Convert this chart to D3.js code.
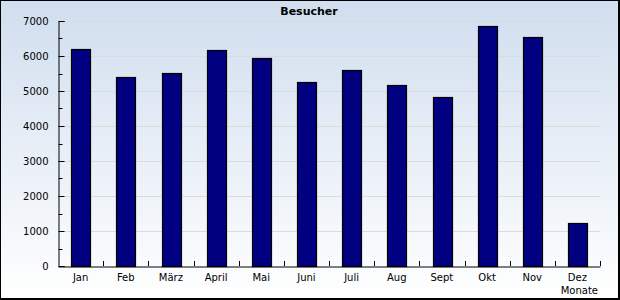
<!DOCTYPE html>
<html>
<head>
<meta charset="utf-8">
<script src="https://cdn.jsdelivr.net/npm/d3@7"></script>
<style>
  body { margin: 0; }
  svg { display: block; font-family: "DejaVu Sans", Verdana, sans-serif; }
</style>
</head>
<body>
<div id="chart"></div>
<script>
// data
const months = ["Jan", "Feb", "März", "April", "Mai", "Juni", "Juli", "Aug", "Sept", "Okt", "Nov", "Dez"];
const visitors = [6190, 5390, 5510, 6160, 5930, 5250, 5590, 5160, 4840, 6850, 6530, 1220];
const yTicks = [0, 1000, 2000, 3000, 4000, 5000, 6000, 7000];

let dimensions = {
  width: 620,
  height: 300,
  margin: { top: 21, right: 20, bottom: 34, left: 58 },
};
dimensions.boundedWidth = dimensions.width - dimensions.margin.left - dimensions.margin.right;
dimensions.boundedHeight = dimensions.height - dimensions.margin.top - dimensions.margin.bottom;

const svg = d3.select("#chart")
  .append("svg")
  .attr("width", dimensions.width)
  .attr("height", dimensions.height);

// background gradient
const grad = svg.append("defs").append("linearGradient")
  .attr("id", "bg").attr("x1", 0).attr("y1", 0).attr("x2", 0).attr("y2", 1);
grad.append("stop").attr("offset", "0%").attr("stop-color", "#d0deef");
grad.append("stop").attr("offset", "100%").attr("stop-color", "#ffffff");

// frame: thin on top/left, a bit heavier on right/bottom
svg.append("rect")
  .attr("width", dimensions.width).attr("height", dimensions.height)
  .attr("fill", "#000");
svg.append("rect")
  .attr("x", 1).attr("y", 1)
  .attr("width", dimensions.width - 3).attr("height", dimensions.height - 3)
  .attr("fill", "url(#bg)");

const g = svg.append("g")
  .attr("transform", `translate(${dimensions.margin.left},${dimensions.margin.top})`);

const xScale = d3.scaleBand()
  .domain(months)
  .range([0, dimensions.boundedWidth])
  .paddingInner(0.59)
  .paddingOuter(0.295);

const yScale = d3.scaleLinear()
  .domain([0, 7000])
  .range([dimensions.boundedHeight, 0]);

// grid lines
g.append("g")
  .selectAll("line")
  .data(yTicks.slice(1))
  .join("line")
  .attr("x1", 0).attr("x2", dimensions.boundedWidth)
  .attr("y1", d => Math.round(yScale(d)) + 0.5)
  .attr("y2", d => Math.round(yScale(d)) + 0.5)
  .attr("stroke", "#dedad8");

// bars
g.append("g")
  .selectAll("rect")
  .data(visitors)
  .join("rect")
  .attr("x", (d, i) => Math.round(xScale(months[i])) + 0.5)
  .attr("y", d => Math.round(yScale(d)) + 0.5)
  .attr("width", Math.round(xScale.bandwidth()))
  .attr("height", d => Math.round(yScale(0)) - Math.round(yScale(d)))
  .attr("fill", "#000080")
  .attr("stroke", "#000")
  .attr("stroke-width", 1.2);

// y axis: ticks point inward
const yAxis = g.append("g")
  .attr("transform", "translate(0.5,0)")
  .call(d3.axisRight(yScale).tickValues(yTicks).tickSize(6).tickFormat(d3.format("d")));
yAxis.selectAll("text")
  .attr("x", -10)
  .attr("text-anchor", "end")
  .style("font-size", "10px")
  .style("font-family", "DejaVu Sans")
  .attr("fill", "#000");
yAxis.select(".domain").attr("stroke", "#000");

// minor ticks at the half thousands
g.append("g")
  .selectAll("line")
  .data(yTicks.slice(1).map(d => d - 500))
  .join("line")
  .attr("x1", 0.5).attr("x2", 4.5)
  .attr("y1", d => Math.round(yScale(d)) + 0.5)
  .attr("y2", d => Math.round(yScale(d)) + 0.5)
  .attr("stroke", "#000");

// x axis: labels centred in bands, ticks at band borders
const xAxis = g.append("g")
  .attr("transform", `translate(0,${dimensions.boundedHeight + 0.5})`)
  .call(d3.axisBottom(xScale).tickSize(0).tickPadding(7));
xAxis.select(".domain").attr("stroke", "#000");
xAxis.selectAll("text")
  .style("font-size", "10px")
  .style("font-family", "DejaVu Sans")
  .attr("fill", "#000");

g.append("g")
  .selectAll("line")
  .data(months.map((m, i) => i + 1))
  .join("line")
  .attr("x1", i => Math.round(i * xScale.step()) + 0.5)
  .attr("x2", i => Math.round(i * xScale.step()) + 0.5)
  .attr("y1", dimensions.boundedHeight)
  .attr("y2", dimensions.boundedHeight - 5)
  .attr("stroke", "#000");

// title and axis name
svg.append("text")
  .attr("x", 309).attr("y", 15)
  .attr("text-anchor", "middle")
  .style("font-size", "11px")
  .style("font-weight", "bold")
  .text("Besucher");

svg.append("text")
  .attr("x", dimensions.margin.left + dimensions.boundedWidth - 2)
  .attr("y", 294)
  .attr("text-anchor", "end")
  .style("font-size", "10px")
  .text("Monate");
</script>
</body>
</html>
